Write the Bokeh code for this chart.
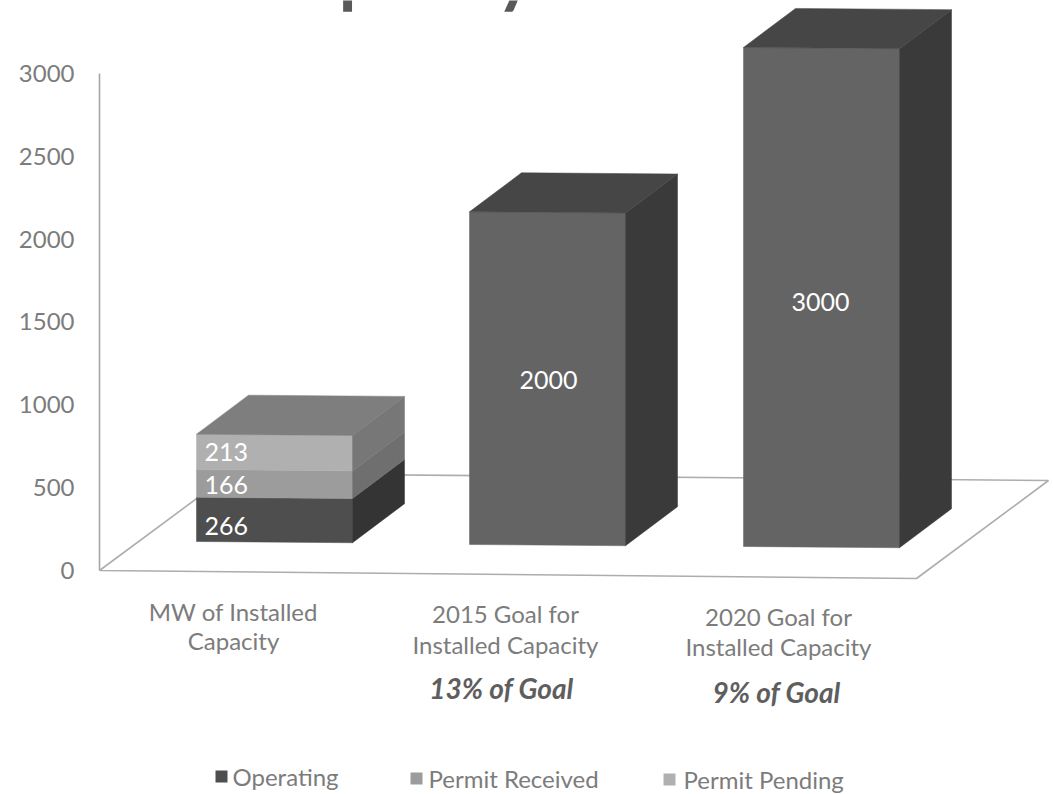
from bokeh.plotting import figure
from bokeh.embed import file_html
from bokeh.resources import INLINE
from bokeh.models import FixedTicker, Range1d
from bokeh.core.properties import value

# ---- data ----
categories = ["MW of Installed\nCapacity", "2015 Goal for\nInstalled Capacity", "2020 Goal for\nInstalled Capacity"]
operating = [266, 0, 0]
permit_received = [166, 0, 0]
permit_pending = [213, 0, 0]
goal = [0, 2000, 3000]
goal_notes = ["", "13% of Goal", "9% of Goal"]
legend_labels = ["Operating", "Permit Received", "Permit Pending"]
y_ticks = [0, 500, 1000, 1500, 2000, 2500, 3000]
title_text = "MW Capacity:"

# ---- layout (picture pixels) ----
W, H = 1053, 794
AX_X = 99
Y0 = 570.0
K = 0.1657 * 1.004   # px per MW
AX_K = 0.1657
DX, DY = 52, 39
BAR_W = 156
BAR_LEFT = [196, 469, 743]
BAR_BASE = [541, 544, 546]
TILT = 0.008
TEXT_C = "#7c7c7c"


def v(py):
    return (Y0 - py) / AX_K


p = figure(width=W, height=H, output_backend="svg", toolbar_location=None,
           x_range=Range1d(AX_X, W), y_range=Range1d(v(H), v(0)),
           min_border_left=AX_X, min_border_right=0, min_border_top=0, min_border_bottom=0,
           x_axis_type=None, background_fill_color="white", border_fill_color="white",
           outline_line_color=None)
p.grid.visible = False

ax = p.yaxis[0]
ax.ticker = FixedTicker(ticks=y_ticks)
ax.bounds = (0, 3000)
ax.major_tick_line_color = None
ax.minor_tick_line_color = None
ax.axis_line_color = "#a6a6a6"
ax.axis_line_width = 1.6
ax.major_label_text_font = "Lato"
ax.major_label_text_font_size = "24px"
ax.major_label_text_color = TEXT_C
ax.major_label_standoff = 19

# floor
fx = [AX_X, 916, 1048, 230, AX_X]
fy = [570, 578, 480, 473, 570]
p.line(fx, [v(y) for y in fy], line_color="#adadad", line_width=1.6)


def bar(x0, base_py, start, end, front, side, top=None):
    y_a = base_py - start * K
    y_b = base_py - end * K
    t = TILT * BAR_W
    x1 = x0 + BAR_W
    p.patch([x0, x1, x1, x0], [v(y_a), v(y_a + t), v(y_b + t), v(y_b)],
            fill_color=front, line_color=front, line_width=0.5)
    p.patch([x1, x1 + DX, x1 + DX, x1],
            [v(y_a + t), v(y_a + t - DY), v(y_b + t - DY), v(y_b + t)],
            fill_color=side, line_color=side, line_width=0.5)
    if top:
        p.patch([x0, x1, x1 + DX, x0 + DX],
                [v(y_b), v(y_b + t), v(y_b + t - DY), v(y_b - DY)],
                fill_color=top, line_color=top, line_width=0.5)


# stacked first bar
s0 = operating[0]
s1 = s0 + permit_received[0]
s2 = s1 + permit_pending[0]
bar(BAR_LEFT[0], BAR_BASE[0], 0, s0, "#4e4e4e", "#343434")
bar(BAR_LEFT[0], BAR_BASE[0], s0, s1, "#9c9c9c", "#6f6f6f")
bar(BAR_LEFT[0], BAR_BASE[0], s1, s2, "#b0b0b0", "#777777", "#7e7e7e")
# goal bars
for i in (1, 2):
    bar(BAR_LEFT[i], BAR_BASE[i], 0, goal[i], "#646464", "#3a3a3a", "#464646")


def txt(x, py, s, size, color=TEXT_C, align="center", style="normal"):
    p.text([x], [v(py)], text=[s], text_font=value("Lato"), text_font_size=size,
           text_color=color, text_align=align, text_baseline="middle", text_font_style=style)


# data labels
DL_X = 204
txt(DL_X, 451, str(permit_pending[0]), "25px", "white", "left")
txt(DL_X, 484, str(permit_received[0]), "25px", "white", "left")
txt(DL_X, 525, str(operating[0]), "25px", "white", "left")
txt(548, 379, str(goal[1]), "25px", "white")
txt(820, 301, str(goal[2]), "25px", "white")

# category labels
CAT_X = [233, 505, 778]
CAT_Y = [(611, 640), (613, 644), (616, 646)]
for i, c in enumerate(categories):
    a, b = c.split("\n")
    txt(CAT_X[i], CAT_Y[i][0], a, "24px")
    txt(CAT_X[i], CAT_Y[i][1], b, "24px")

NOTE_POS = [None, (501, 687), (776, 691)]
for i, n in enumerate(goal_notes):
    if n:
        txt(NOTE_POS[i][0], NOTE_POS[i][1], n, "28px", "#5e5e5e", "center", "bold italic")

# legend
LEG_SQ = [221, 416, 669]
LEG_TX = [232, 428, 683]
LEG_Y = [776, 778, 779]
LEG_C = ["#4e4e4e", "#9c9c9c", "#b0b0b0"]
for i, l in enumerate(legend_labels):
    p.scatter([LEG_SQ[i]], [v(LEG_Y[i])], marker="square", size=12, fill_color=LEG_C[i], line_color=None)
    txt(LEG_TX[i], LEG_Y[i], l, "24px", TEXT_C, "left")

# title (cut by the top of the picture)
p.text([323], [v(-30)], text=[title_text], text_font=value("Lato"), text_font_size="72px",
       text_font_style="bold", text_color="#595959", text_align="center", text_baseline="alphabetic")

open("out.html", "w").write(file_html(p, INLINE))
